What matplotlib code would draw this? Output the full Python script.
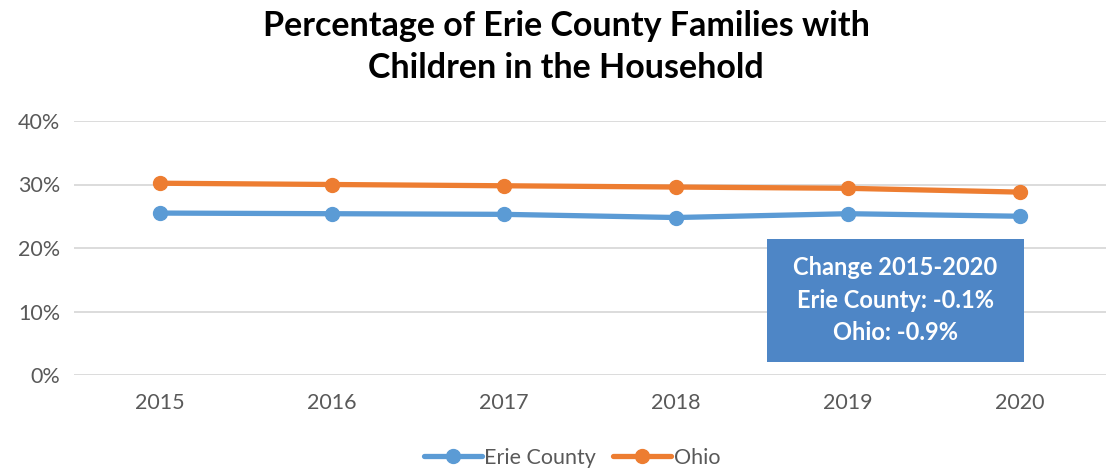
import matplotlib.pyplot as plt
from matplotlib.patches import Rectangle
from matplotlib.ticker import PercentFormatter

plt.rcParams['font.family'] = ['Lato', 'DejaVu Sans']

years = ['2015', '2016', '2017', '2018', '2019', '2020']
erie = [0.255, 0.254, 0.253, 0.248, 0.254, 0.250]
ohio = [0.302, 0.300, 0.298, 0.296, 0.294, 0.288]
note_lines = ['Change 2015-2020', 'Erie County: -0.1%', 'Ohio: -0.9%']

BLUE = '#5B9BD5'
ORANGE = '#ED7D31'
GRID = '#D9D9D9'
TEXT = '#595959'

fig = plt.figure(figsize=(11.06, 4.72), dpi=100)
ax = fig.add_axes([74 / 1106, 1 - 375 / 472, 1 - 74 / 1106, (375 - 121) / 472])

x = range(len(years))
ax.plot(x, erie, color=BLUE, lw=3.8, marker='o', ms=10, label='Erie County',
        solid_capstyle='round')
ax.plot(x, ohio, color=ORANGE, lw=3.8, marker='o', ms=10, label='Ohio',
        solid_capstyle='round')

ax.set_xlim(-0.5, len(years) - 0.5)
ax.set_ylim(0, 0.4)
ax.set_yticks([0, 0.1, 0.2, 0.3, 0.4])
ax.yaxis.set_major_formatter(PercentFormatter(1.0, decimals=0))
ax.set_xticks(list(x))
ax.set_xticklabels(years)
ax.grid(axis='y', color=GRID, lw=1.3)
ax.set_axisbelow(True)
for s in ax.spines.values():
    s.set_visible(False)
ax.tick_params(length=0, labelsize=15.5, colors=TEXT)
ax.tick_params(axis='x', pad=13)
ax.tick_params(axis='y', pad=10)

# summary box in the lower right
box = Rectangle((767 / 1106, 1 - 362 / 472), (1024 - 767) / 1106, (362 - 239) / 472,
                transform=fig.transFigure, facecolor='#4E86C6', edgecolor='none',
                zorder=5)
fig.add_artist(box)
fig.text((767 + 1024) / 2 / 1106, 1 - 300 / 472, '\n'.join(note_lines),
         ha='center', va='center', color='white', fontsize=17, fontweight='bold',
         linespacing=1.5, zorder=6)

fig.text(566 / 1106, 1 - 47 / 472,
         'Percentage of Erie County Families with\nChildren in the Household',
         ha='center', va='center', fontsize=24.5, fontweight='bold', color='black',
         linespacing=1.4)

fig.legend(loc='center', bbox_to_anchor=(572 / 1106, 1 - 458 / 472), ncol=2,
           frameon=False, fontsize=15.5, labelcolor=TEXT, handlelength=2.7,
           handletextpad=0.1, columnspacing=0.8)

fig.savefig('out.png', dpi=100)
